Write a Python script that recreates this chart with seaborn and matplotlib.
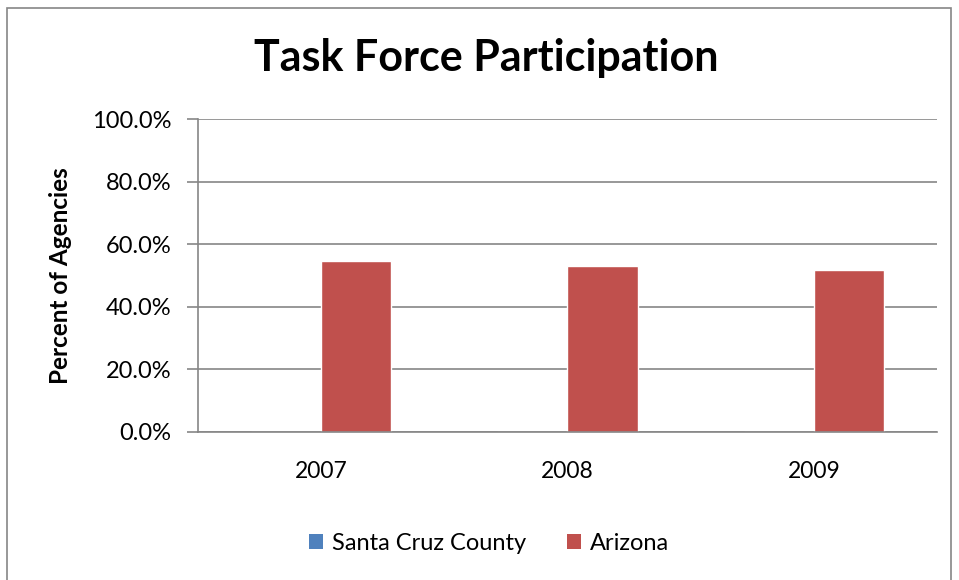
import matplotlib
matplotlib.use("Agg")
import matplotlib.pyplot as plt
from matplotlib.patches import Rectangle, Patch
from matplotlib.ticker import FuncFormatter, MultipleLocator
import seaborn as sns
import pandas as pd

years = ["2007", "2008", "2009"]
series = ["Santa Cruz County", "Arizona"]
santa_cruz = [0.0, 0.0, 0.0]
arizona = [54.6, 53.0, 51.9]
colors = ["#4F81BD", "#C0504D"]

df = pd.DataFrame({
    "Year": years * 2,
    "Series": [series[0]] * 3 + [series[1]] * 3,
    "Value": santa_cruz + arizona,
})

sns.set_style("white")
plt.rcParams["font.family"] = ["Lato", "DejaVu Sans"]
plt.rcParams["text.color"] = "black"
plt.rcParams["xtick.color"] = "black"
plt.rcParams["ytick.color"] = "black"
plt.rcParams["axes.labelcolor"] = "black"

W, H = 959, 580
fig = plt.figure(figsize=(W / 100, H / 100), dpi=100)
ax = fig.add_axes([198 / W, 1 - 432 / H, (937 - 198) / W, (432 - 119) / H])

sns.barplot(data=df, x="Year", y="Value", hue="Series", palette=colors,
            width=0.57, ax=ax, legend=False, saturation=1)

ax.set_ylim(0, 100)
ax.set_xlim(-0.5, 2.5)
ax.yaxis.set_major_locator(MultipleLocator(20))
ax.yaxis.set_major_formatter(FuncFormatter(lambda v, p: f"{v:.1f}%"))
ax.grid(axis="y", color="#868686", linewidth=1.2)
ax.set_axisbelow(True)
for s in ["top", "right"]:
    ax.spines[s].set_visible(False)
for s in ["left", "bottom"]:
    ax.spines[s].set_color("#868686")
    ax.spines[s].set_linewidth(1.2)
ax.tick_params(axis="y", length=8, width=1.2, color="#868686",
               labelcolor="black", labelsize=17, pad=11, left=True)
ax.tick_params(axis="x", length=0, labelsize=16.5, pad=21, labelcolor="black")
ax.set_xlabel("")
ax.set_ylabel("Percent of Agencies", fontsize=17.5, fontweight="bold")
ax.yaxis.set_label_coords((72 - 198) / (937 - 198), 0.5)

fig.text(486 / W, 1 - 58 / H, "Task Force Participation", ha="center", va="center",
         fontsize=31, fontweight="bold")

handles = [Patch(facecolor=c, edgecolor="none") for c in colors]
fig.legend(handles, series, loc="center", bbox_to_anchor=(489 / W, 1 - 543 / H),
           ncol=2, frameon=False, fontsize=17, handlelength=0.6, handleheight=0.6,
           handletextpad=0.4, columnspacing=1.7)

fig.patches.append(Rectangle((7 / W, -0.01), (951 - 7) / W, 1 - 8 / H + 0.01,
                             transform=fig.transFigure, fill=False,
                             edgecolor="#868686", linewidth=1.2))

fig.savefig("out.png", dpi=100, facecolor="white")
